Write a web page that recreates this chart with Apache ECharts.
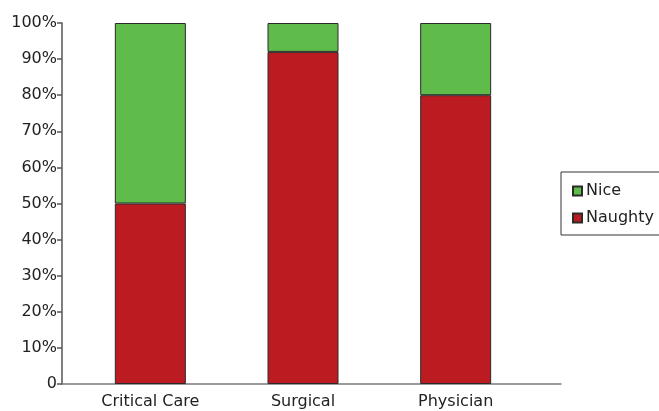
<!DOCTYPE html>
<html>
<head>
<meta charset="utf-8">
<script src="https://cdn.jsdelivr.net/npm/echarts@6/dist/echarts.min.js"></script>
<style>
  html, body { margin: 0; padding: 0; background: #fff; }
  #chart { width: 659px; height: 411px; }
</style>
</head>
<body>
<div id="chart"></div>
<script>
// Share of each specialty rated naughty vs nice (percent)
const categories = ['Critical Care', 'Surgical', 'Physician'];
const naughty = [50, 92, 80];
const nice = [50, 8, 20];
const yTicks = [0, 10, 20, 30, 40, 50, 60, 70, 80, 90, 100];

const FONT = '"DejaVu Sans"';
const chart = echarts.init(document.getElementById('chart'), null, { renderer: 'canvas' });

const barStyle = { borderColor: '#2b2b2b', borderWidth: 1 };
const TOP = 23, BOTTOM = 27;

chart.setOption({
  animation: false,
  textStyle: { fontFamily: FONT },
  grid: [
    // grid 0: the bars and their category labels
    { left: 74, right: 127, top: TOP, bottom: BOTTOM, containLabel: false },
    // grid 1: the framing axes, whose x line runs on past the last bar
    { left: 62, right: 98, top: TOP, bottom: BOTTOM, containLabel: false }
  ],
  xAxis: [
    {
      gridIndex: 0,
      type: 'category',
      data: categories,
      axisLine: { show: false },
      axisTick: { show: false },
      axisLabel: { color: '#222', fontSize: 16, fontFamily: FONT, margin: 10 }
    },
    {
      gridIndex: 1,
      type: 'value',
      min: 0,
      max: 1,
      splitLine: { show: false },
      axisLine: { show: true, onZero: false, lineStyle: { color: '#7a7a7a', width: 1.5 } },
      axisTick: { show: false },
      axisLabel: { show: false }
    }
  ],
  yAxis: [
    {
      gridIndex: 0,
      type: 'value',
      min: 0,
      max: 100,
      interval: 10,
      show: false
    },
    {
      gridIndex: 1,
      type: 'value',
      min: 0,
      max: 100,
      interval: 10,
      splitLine: { show: false },
      axisLine: { show: true, onZero: false, lineStyle: { color: '#555', width: 1.5 } },
      axisTick: { show: true, length: 5, lineStyle: { color: '#555', width: 1.5 } },
      axisLabel: {
        customValues: yTicks,
        formatter: v => (v === 0 ? '0' : v + '%'),
        color: '#222',
        fontSize: 16,
        fontFamily: FONT,
        margin: 5
      }
    }
  ],
  legend: {
    data: ['Nice', 'Naughty'],
    orient: 'vertical',
    left: 561,
    top: 172,
    padding: [11, 12, 9, 11],
    icon: 'rect',
    itemWidth: 9,
    itemHeight: 9,
    itemGap: 11,
    borderColor: '#333',
    borderWidth: 1,
    textStyle: { fontSize: 16, color: '#222', fontFamily: FONT, padding: [0, 0, 0, -1] }
  },
  series: [
    {
      name: 'Naughty',
      type: 'bar',
      stack: 'total',
      xAxisIndex: 0,
      yAxisIndex: 0,
      barWidth: 71,
      data: naughty,
      itemStyle: Object.assign({ color: '#bc1c21' }, barStyle)
    },
    {
      name: 'Nice',
      type: 'bar',
      stack: 'total',
      xAxisIndex: 0,
      yAxisIndex: 0,
      barWidth: 71,
      data: nice,
      itemStyle: Object.assign({ color: '#5fbb4a' }, barStyle)
    }
  ]
});
</script>
</body>
</html>
